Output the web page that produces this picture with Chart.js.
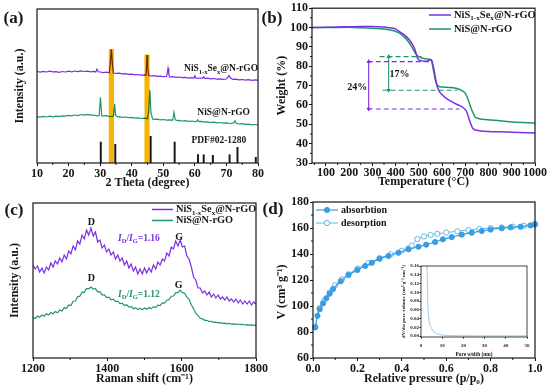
<!DOCTYPE html>
<html>
<head>
<meta charset="utf-8">
<title>NiS1-xSex@N-rGO characterization</title>
<script src="https://cdn.jsdelivr.net/npm/chart.js@4.4.1/dist/chart.umd.min.js"></script>
<style>
  html, body { margin: 0; padding: 0; background: #ffffff; }
  #fig { position: relative; width: 550px; height: 392px; overflow: hidden; background: #ffffff; }
  #fig canvas { position: absolute; left: 0; top: 0; }
</style>
</head>
<body>
<div id="fig">
  <canvas id="chartA" width="550" height="392"></canvas>
  <canvas id="chartB" width="550" height="392"></canvas>
  <canvas id="chartC" width="550" height="392"></canvas>
  <canvas id="chartD" width="550" height="392"></canvas>
  <canvas id="chartInset" width="550" height="392"></canvas>
</div>
<script>
// ---------------- (a) XRD ----------------
const XRD_TICKS = [10, 20, 30, 40, 50, 60, 70, 80];
const XRD_SE_2THETA = [10,11,12,13,14,15,16,17,18,19,20,21,22,23,24,25,26,27,28,28.6,29,29.4,30,31,32,32.9,33.2,33.55,33.9,34.2,35,36,37,38,39,40,41,42,43,44,44.5,44.7,44.85,45.05,45.4,46,47,48,49,50,51,51.25,51.5,51.75,52,53,54,55,56,57,58,59,59.7,60,60.3,61,62,62.5,62.8,63.2,64,65,66,67,68,69,70,70.4,70.8,71.2,72,73,74,75,76,77,78,79,80];
const XRD_SE_INT = [91.5,90.8,91.6,91.0,91.8,91.1,91.4,90.7,91.5,91.0,91.9,91.2,92.0,91.4,92.2,91.5,91.9,91.1,91.6,91.0,93.8,91.2,91.0,90.4,90.9,90.2,99,113.7,98,90.0,89.6,89.9,89.1,89.4,88.6,88.9,88.2,88.5,87.8,88.1,87.6,96,108,95,87.4,87.0,87.4,86.6,86.9,86.3,86.6,89.5,94.7,89,86.0,86.3,85.6,86.0,85.3,85.6,84.9,85.3,85.0,87.2,85.0,84.6,85.0,84.8,86.2,84.5,84.9,84.2,84.5,83.8,84.2,83.6,84.0,85.4,87.6,85.2,83.6,83.9,83.2,83.5,82.9,83.3,82.7,83.1,82.8];
const XRD_NIS_2THETA = [10,11,12,13,14,15,16,17,18,19,20,21,22,23,24,25,26,27,28,29,29.7,30.1,30.5,31,32,33,34,34.3,34.6,34.9,35.5,36,37,38,39,40,41,42,43,44,45,45.4,45.75,46.1,46.6,47,48,49,50,51,52,53,53.4,53.8,54.5,55,56,57,58,59,60,60.5,60.9,61.3,62,63,64,65,66,67,68,69,70,71,72,72.3,72.7,73.1,74,75,76,77,78,79,80];
const XRD_NIS_INT = [46.3,45.8,46.6,46.0,46.8,46.2,46.9,46.4,47.2,46.8,47.6,47.1,48.0,47.4,48.5,47.9,48.6,47.8,48.0,47.2,47.4,65.7,47.5,46.9,47.3,46.5,46.7,48,59,47.5,46.1,46.4,45.7,46.0,45.3,45.6,44.9,45.2,44.5,44.8,44.3,52,73,50,44.0,43.6,43.9,43.2,43.5,42.8,43.1,42.9,50.7,43.2,42.4,42.7,42.0,42.4,41.7,42.0,41.4,41.6,43.2,41.3,41.6,40.9,41.2,40.5,40.8,40.1,40.5,39.8,40.2,39.5,39.8,40.2,42.3,39.7,39.0,39.3,38.6,38.9,38.2,38.5,38.0];
const PDF_2THETA = [30.2, 34.8, 46.0, 53.6, 61.0, 62.8, 65.7, 71.0, 73.5, 79.3];
const PDF_INT = [21, 18.7, 26.7, 21, 8.3, 8.3, 7.7, 8.3, 15.7, 5.7];
const HIGHLIGHT_2THETA = [33.55, 44.85];
const HIGHLIGHT_TOP = [113.7, 108];

// ---------------- (b) TGA ----------------
const TGA_T_TICKS = [100, 200, 300, 400, 500, 600, 700, 800, 900, 1000];
const TGA_W_TICKS = [30, 40, 50, 60, 70, 80, 90, 100, 110];
const TGA_SE_T = [40,100,150,200,250,300,350,380,400,417,440,460,481,495,510,532,550,556,563,570,577,589,600,617,640,660,689,706,713,720,734,760,800,850,903,1000];
const TGA_SE_W = [100,100.1,100.3,100.4,100.5,100.5,100.3,99.8,99.2,97.9,96,93.6,89.3,84.1,82.9,82.6,83.3,82.8,79.5,75,70.3,66.9,65.3,63.5,61.8,60.5,58.8,56.5,54,51.4,47.6,46.7,46.3,46.1,45.9,45.5];
const TGA_NIS_T = [40,100,200,250,300,350,380,400,417,440,460,481,495,517,546,553,560,565,571,586,600,617,660,689,700,710,720,731,746,775,850,903,1000];
const TGA_NIS_W = [100,100,100.1,99.9,99.6,99.2,98.6,98,97.1,94.8,91.9,87.6,85.3,84.1,83.6,83.3,79.8,76.5,72.9,69.5,69.3,69.1,68.6,67.2,66,63.5,60,56.5,53.4,52.6,51.8,51.2,50.7];
const GUIDE_SE_TOP_T = [280, 553];
const GUIDE_SE_TOP_W = [82.4, 82.4];
const GUIDE_SE_BOT_T = [280, 674];
const GUIDE_SE_BOT_W = [57.9, 57.9];
const ARROW_SE_T = [284, 284];
const ARROW_SE_W = [82.4, 57.9];
const GUIDE_NIS_TOP_T = [331, 511];
const GUIDE_NIS_TOP_W = [85, 85];
const GUIDE_NIS_BOT_T = [344, 666];
const GUIDE_NIS_BOT_W = [67.6, 67.6];
const ARROW_NIS_T = [370, 370];
const ARROW_NIS_W = [85, 67.6];

// ---------------- (c) Raman ----------------
const RAMAN_TICKS = [1200, 1400, 1600, 1800];
const RAMAN_SHIFT = [1200,1206,1212,1218,1224,1230,1236,1242,1248,1254,
  1260,1266,1272,1278,1284,1290,1296,1302,1308,1314,
  1320,1326,1332,1338,1344,1350,1356,1362,1368,1374,
  1380,1386,1392,1398,1404,1410,1416,1422,1428,1434,
  1440,1446,1452,1458,1464,1470,1476,1482,1488,1494,
  1500,1506,1512,1518,1524,1530,1536,1542,1548,1554,
  1560,1566,1572,1578,1584,1590,1596,1602,1608,1614,
  1620,1626,1632,1638,1644,1650,1656,1662,1668,1674,
  1680,1686,1692,1698,1704,1710,1716,1722,1728,1734,
  1740,1746,1752,1758,1764,1770,1776,1782,1788,1794,1800];
const RAMAN_SE = [93,89,92,86,90,85,91,88,95,91,
  97,94,100,96,103,99,107,104,112,108,
  117,114,123,119,128,123,130,122,126,116,
  118,110,113,106,109,103,106,99,103,97,
  100,93,97,90,94,87,91,84,89,84,
  90,85,90,86,93,89,96,93,99,97,
  105,102,111,109,117,112,118,111,112,102,
  99,91,81,78,70,70,65,67,63,66,
  61,64,60,63,59,61,58,61,57,59,
  56,59,55,58,54,57,54,57,53,56,54];
const RAMAN_NIS = [40.5,39.5,42,40.8,43,41.8,44.2,43,45.5,44.3,
  46.5,45.2,48,47,50.2,49.6,53,52.5,56.8,57,
  61.2,61.8,65.8,65.7,69.5,69.2,71,69,69.4,66.2,
  66.3,63.2,63.2,60.3,60.8,58.2,58.8,56.3,56.8,54.4,
  54.8,52.5,53.2,50.9,51.6,49.3,50.2,48.4,49.8,48.3,
  50,48.8,50.5,49.4,51.3,50.4,52.8,52.3,55.1,54.9,
  57.8,58.3,61.8,62,65.3,65.4,67.8,65.4,64.8,60.8,
  58.6,53,49.4,44.6,42.3,39.7,39.1,37.7,37.6,36.5,
  36.6,35.7,35.9,35.1,35.4,34.6,34.9,34.2,34.6,33.8,
  34.2,33.6,34,33.3,33.7,33,33.4,32.8,33.2,32.6,32.9];

// ---------------- (d) N2 isotherm ----------------
const BET_P_TICKS = [0, 0.2, 0.4, 0.6, 0.8, 1.0];
const BET_V_TICKS = [60, 80, 100, 120, 140, 160, 180];
const BET_ADS_P = [0.01,0.02,0.03,0.045,0.06,0.075,0.09,0.125,0.16,0.2,0.235,0.265,0.3,0.34,0.385,0.43,0.475,0.51,0.55,0.585,0.625,0.67,0.715,0.76,0.8,0.85,0.89,0.935,0.98,1.0];
const BET_ADS_V = [83.5,92.5,97.5,102,106,109.5,113,119,123.8,127.7,130.8,133.3,136.4,138.5,141,143.6,145.6,147.2,149.2,151.3,153,154.9,156.4,157.7,158.8,159.8,160.5,161,162,162.6];
const BET_DES_P = [0.01,0.03,0.05,0.075,0.1,0.13,0.16,0.2,0.25,0.3,0.35,0.4,0.43,0.445,0.47,0.5,0.53,0.56,0.6,0.65,0.7,0.75,0.8,0.85,0.9,0.95,1.0];
const BET_DES_V = [84,98.5,104,110.5,116,120.5,124.5,128.8,133,136.8,139.8,142.6,144.5,146.5,151.5,153.5,154.6,155.5,156.5,157.5,158.5,159.3,160,160.5,161,161.7,163.5];
const PORE_W_TICKS = [0, 10, 20, 30, 40, 50];
const PORE_DV_TICKS = [0, 0.02, 0.04, 0.06, 0.08, 0.10, 0.12, 0.14, 0.16];
const PORE_W = [2,2.5,3,3.2,3.6,4,5,6,7.4,9,10.6,13,16,20,25,30,35,40,45,50];
const PORE_DV = [0.40,0.25,0.12,0.08,0.044,0.03,0.0176,0.01,0.006,0.0035,0.002,0.0012,0.0009,0.0007,0.0006,0.0005,0.0005,0.0005,0.0005,0.0005];

// ---------------- styling ----------------
const FONT = "'Liberation Serif', 'Times New Roman', Times, serif";
const INK = '#161616';
const PURPLE = '#7b2fe3';
const GREEN = '#21966c';
const YELLOW = '#f7b500';
const BLUE = '#3a9de2';
const BLUE2 = '#5fb8e8';
const INSET_LINE = '#8fd0ec';

// rich-text pieces (every piece is an object so option resolution keeps them intact)
const T = s => ({ t: s });
const SUB = s => ({ t: s, sub: true });
const IT = s => ({ t: s, it: true });
const NAME_SE = [T('NiS'), SUB('1-x'), T('Se'), SUB('x'), T('@N-rGO')];
const NAME_NIS = [T('NiS@N-rGO')];
const RATIO_SE = [IT('I'), SUB('D'), T('/'), IT('I'), SUB('G'), T('=1.16')];
const RATIO_NIS = [IT('I'), SUB('D'), T('/'), IT('I'), SUB('G'), T('=1.12')];

Chart.defaults.font.family = FONT;
Chart.defaults.font.weight = 'bold';
Chart.defaults.font.size = 12;
Chart.defaults.color = INK;

function pts(xs, ys) { return xs.map((x, i) => ({ x: x, y: ys[i] })); }

function drawRich(ctx, x, y, parts, size, color, align) {
  const segs = [];
  for (let i = 0; i < parts.length; i++) {
    const p = parts[i];
    const txt = (typeof p === 'string') ? p : String(p.t);
    const sub = (typeof p === 'string') ? false : !!p.sub;
    const it = (typeof p === 'string') ? false : !!p.it;
    const fs = sub ? size * 0.68 : size;
    const font = (it ? 'italic ' : '') + 'bold ' + fs + 'px ' + FONT;
    ctx.font = font;
    segs.push({ t: txt, font: font, w: ctx.measureText(txt).width, dy: sub ? size * 0.32 : 0 });
  }
  const W = segs.reduce((a, s) => a + s.w, 0);
  let cx = align === 'center' ? x - W / 2 : (align === 'right' ? x - W : x);
  ctx.fillStyle = color;
  ctx.textBaseline = 'middle';
  ctx.textAlign = 'left';
  segs.forEach(s => { ctx.font = s.font; ctx.fillText(s.t, cx, y + s.dy); cx += s.w; });
}

const deco = {
  id: 'deco',
  beforeDraw(chart, args, o) {
    if (o.fill) {
      const a = chart.chartArea, ctx = chart.ctx;
      ctx.save(); ctx.fillStyle = o.fill;
      ctx.fillRect(a.left, a.top, a.right - a.left, a.bottom - a.top);
      ctx.restore();
    }
  },
  beforeDatasetDraw(chart, args) {
    const ds = chart.data.datasets[args.index];
    if (ds.blend) { chart.ctx.save(); chart.ctx.globalCompositeOperation = ds.blend; }
  },
  afterDatasetDraw(chart, args) {
    const ds = chart.data.datasets[args.index];
    if (ds.blend) chart.ctx.restore();
  },
  afterDraw(chart, args, o) {
    const ctx = chart.ctx, a = chart.chartArea;
    ctx.save();
    (o.minor || []).forEach(m => {
      const sc = chart.scales[m.axis];
      ctx.strokeStyle = INK; ctx.lineWidth = 1;
      ctx.beginPath();
      for (let k = 0; k < 500; k++) {
        const v = m.from + k * m.step;
        if (v > sc.max + 1e-9) break;
        if (v < sc.min - 1e-9) continue;
        const p = sc.getPixelForValue(v);
        if (sc.isHorizontal()) { ctx.moveTo(p, a.bottom); ctx.lineTo(p, a.bottom + m.len); }
        else { ctx.moveTo(a.left, p); ctx.lineTo(a.left - m.len, p); }
      }
      ctx.stroke();
    });
    if (o.frame) {
      ctx.strokeStyle = INK; ctx.lineWidth = o.frame;
      ctx.strokeRect(a.left, a.top, a.right - a.left, a.bottom - a.top);
    }
    (o.legend || []).forEach(l => {
      ctx.strokeStyle = l.color; ctx.lineWidth = l.lw || 1.5;
      ctx.beginPath(); ctx.moveTo(l.x1, l.y); ctx.lineTo(l.x2, l.y); ctx.stroke();
      if (l.marker) {
        const cx = (l.x1 + l.x2) / 2;
        ctx.beginPath(); ctx.arc(cx, l.y, 2.6, 0, Math.PI * 2);
        ctx.fillStyle = l.marker === 'open' ? '#ffffff' : l.color;
        ctx.fill(); ctx.lineWidth = 1; ctx.stroke();
      }
      drawRich(ctx, l.tx, l.y, l.parts, l.size, INK, 'left');
    });
    (o.texts || []).forEach(t => {
      let x = t.x, y = t.y;
      if (!t.px) { x = chart.scales.x.getPixelForValue(t.x); y = chart.scales.y.getPixelForValue(t.y); }
      drawRich(ctx, x, y, t.parts, t.size, t.color || INK, t.align || 'center');
    });
    ctx.restore();
  }
};
Chart.register(deco);

function xScale(o) {
  return {
    type: 'linear', position: 'bottom', min: o.min, max: o.max, offset: false,
    afterBuildTicks: s => { s.ticks = o.ticks.map(v => ({ value: v })); },
    afterFit: s => { s.height = o.h; },
    ticks: { display: true, padding: o.tp, autoSkip: false, maxRotation: 0, minRotation: 0,
      font: { size: o.fs || 12, weight: 'bold' }, color: INK, callback: o.fmt || (v => String(v)) },
    grid: { display: true, drawOnChartArea: false, drawTicks: true, tickLength: o.tl, color: INK, offset: false },
    border: { display: false },
    title: { display: !!o.title, text: o.title, color: INK, font: { size: o.tfs || 12, weight: 'bold' },
      padding: { top: 0, bottom: o.tpad } }
  };
}
function yScale(o) {
  const hasTicks = !!o.ticks;
  return {
    type: 'linear', position: 'left', min: o.min, max: o.max,
    afterBuildTicks: s => { if (hasTicks) s.ticks = o.ticks.map(v => ({ value: v })); },
    afterFit: s => { s.width = o.w; },
    ticks: { display: hasTicks, padding: o.tp || 1, autoSkip: false,
      font: { size: o.fs || 12, weight: 'bold' }, color: INK, callback: o.fmt || (v => String(v)) },
    grid: { display: hasTicks, drawOnChartArea: false, drawTicks: true, tickLength: o.tl || 4, color: INK },
    border: { display: false },
    title: { display: true, text: o.title, color: INK, font: { size: o.tfs || 12, weight: 'bold' },
      padding: { top: o.tpad, bottom: 0 } }
  };
}
function opts(padding, x, y, decoOpts) {
  return {
    responsive: false, maintainAspectRatio: false, animation: false, devicePixelRatio: 1, events: [],
    layout: { padding: padding },
    scales: { x: x, y: y },
    plugins: { legend: { display: false }, tooltip: { enabled: false }, deco: decoOpts }
  };
}
function line(data, color, width, extra) {
  return Object.assign({ data: data, showLine: true, borderColor: color, backgroundColor: color,
    borderWidth: width, pointRadius: 0, tension: 0, order: 2 }, extra || {});
}

// ----- (a) -----
new Chart(document.getElementById('chartA'), {
  type: 'scatter',
  data: { datasets: [
    { type: 'bar', label: 'reflections', data: HIGHLIGHT_2THETA.map((x, i) => ({ x: x, y: [0, HIGHLIGHT_TOP[i]] })),
      backgroundColor: YELLOW, barThickness: 4.5, grouped: false, order: 0, blend: 'multiply' },
    { type: 'bar', label: 'PDF#02-1280', data: pts(PDF_2THETA, PDF_INT), backgroundColor: INK,
      barThickness: 1.3, grouped: false, order: 1 },
    line(pts(XRD_SE_2THETA, XRD_SE_INT), PURPLE, 1.2, { label: 'NiS1-xSex@N-rGO' }),
    line(pts(XRD_NIS_2THETA, XRD_NIS_INT), GREEN, 1.2, { label: 'NiS@N-rGO' })
  ]},
  options: opts({ left: 0, right: 292, top: 9, bottom: 196 },
    xScale({ min: 10, max: 80, ticks: XRD_TICKS, h: 33, tl: 3, tp: 1, title: '2 Theta (degree)', tpad: 5.8 }),
    yScale({ min: 0, max: 154, w: 37, title: 'Intensity (a.u.)', tpad: 12.8 }),
    { frame: 1.2,
      minor: [{ axis: 'x', from: 15, step: 10, len: 2 }],
      texts: [
        { px: true, x: 13.5, y: 19, parts: [T('(a)')], size: 17 },
        { x: 68.3, y: 94, parts: NAME_SE, size: 9.5 },
        { x: 69.1, y: 50, parts: NAME_NIS, size: 9.5 },
        { x: 67.6, y: 22, parts: [T('PDF#02-1280')], size: 9.5 }
      ] })
});

// ----- (b) -----
new Chart(document.getElementById('chartB'), {
  type: 'scatter',
  data: { datasets: [
    line(pts(TGA_SE_T, TGA_SE_W), PURPLE, 1.5, { label: 'NiS1-xSex@N-rGO', cubicInterpolationMode: 'monotone' }),
    line(pts(TGA_NIS_T, TGA_NIS_W), GREEN, 1.5, { label: 'NiS@N-rGO', cubicInterpolationMode: 'monotone' }),
    line(pts(GUIDE_SE_TOP_T, GUIDE_SE_TOP_W), PURPLE, 1.2, { borderDash: [5, 3], order: 3 }),
    line(pts(GUIDE_SE_BOT_T, GUIDE_SE_BOT_W), PURPLE, 1.2, { borderDash: [5, 3], order: 3 }),
    line(pts(ARROW_SE_T, ARROW_SE_W), PURPLE, 1.1, { order: 3, pointStyle: 'triangle', pointRadius: 2.6,
      pointRotation: [0, 180], pointBorderWidth: 0, pointBackgroundColor: PURPLE }),
    line(pts(GUIDE_NIS_TOP_T, GUIDE_NIS_TOP_W), GREEN, 1.2, { borderDash: [5, 3], order: 3 }),
    line(pts(GUIDE_NIS_BOT_T, GUIDE_NIS_BOT_W), GREEN, 1.2, { borderDash: [5, 3], order: 3 }),
    line(pts(ARROW_NIS_T, ARROW_NIS_W), GREEN, 1.1, { order: 3, pointStyle: 'triangle', pointRadius: 2.6,
      pointRotation: [0, 180], pointBorderWidth: 0, pointBackgroundColor: GREEN })
  ]},
  options: opts({ left: 267, right: 15, top: 8, bottom: 196 },
    xScale({ min: 40, max: 1000, ticks: TGA_T_TICKS, h: 33, tl: 3, tp: 0, title: 'Temperature (°C)', tpad: 7 }),
    yScale({ min: 30, max: 110, ticks: TGA_W_TICKS, w: 45, tl: 3, tp: 1, title: 'Weight (%)', tpad: 7.8 }),
    { frame: 1.2,
      minor: [{ axis: 'x', from: 50, step: 100, len: 2 }, { axis: 'y', from: 35, step: 10, len: 2 }],
      legend: [
        { x1: 429, x2: 451, y: 15, color: PURPLE, lw: 1.5, tx: 454, parts: NAME_SE, size: 10.5 },
        { x1: 429, x2: 451, y: 29, color: GREEN, lw: 1.5, tx: 454, parts: NAME_NIS, size: 10.5 }
      ],
      texts: [
        { px: true, x: 272, y: 19, parts: [T('(b)')], size: 17 },
        { x: 235, y: 69.3, parts: [T('24%')], size: 10 },
        { x: 417, y: 76, parts: [T('17%')], size: 10 }
      ] })
});

// ----- (c) -----
new Chart(document.getElementById('chartC'), {
  type: 'scatter',
  data: { datasets: [
    line(pts(RAMAN_SHIFT, RAMAN_SE), PURPLE, 1.2, { label: 'NiS1-xSex@N-rGO' }),
    line(pts(RAMAN_SHIFT, RAMAN_NIS), GREEN, 1.2, { label: 'NiS@N-rGO' })
  ]},
  options: opts({ left: 0, right: 294, top: 203, bottom: 0 },
    xScale({ min: 1200, max: 1800, ticks: RAMAN_TICKS, h: 34, tl: 3, tp: 1, title: 'Raman shift (cm⁻¹)', tpad: 5.8 }),
    yScale({ min: 0, max: 155, w: 33, title: 'Intensity (a.u.)', tpad: 7.8 }),
    { frame: 1.2,
      minor: [{ axis: 'x', from: 1300, step: 200, len: 2 }],
      legend: [
        { x1: 152, x2: 173, y: 209.5, color: PURPLE, lw: 1.5, tx: 176, parts: NAME_SE, size: 10.3 },
        { x1: 152, x2: 173, y: 220.5, color: GREEN, lw: 1.5, tx: 176, parts: NAME_NIS, size: 10.3 }
      ],
      texts: [
        { px: true, x: 14, y: 211, parts: [T('(c)')], size: 17 },
        { x: 1357, y: 136, parts: [T('D')], size: 10 },
        { x: 1357, y: 79.7, parts: [T('D')], size: 10 },
        { x: 1593, y: 120.3, parts: [T('G')], size: 10 },
        { x: 1592, y: 72.7, parts: [T('G')], size: 10 },
        { x: 1485, y: 119.3, color: PURPLE, size: 9.5, parts: RATIO_SE },
        { x: 1485, y: 63.7, color: GREEN, size: 9.5, parts: RATIO_NIS }
      ] })
});

// ----- (d) -----
new Chart(document.getElementById('chartD'), {
  type: 'scatter',
  data: { datasets: [
    line(pts(BET_ADS_P, BET_ADS_V), BLUE, 1.2, { label: 'absorbtion', cubicInterpolationMode: 'monotone',
      pointRadius: 2.6, pointBackgroundColor: BLUE, pointBorderColor: BLUE, pointBorderWidth: 1, clip: 5 }),
    line(pts(BET_DES_P, BET_DES_V), BLUE2, 1.0, { label: 'desorption', cubicInterpolationMode: 'monotone',
      pointRadius: 2.6, pointBackgroundColor: '#ffffff', pointBorderColor: BLUE2, pointBorderWidth: 1, clip: 5 })
  ]},
  options: opts({ left: 268, right: 15, top: 202, bottom: 0 },
    xScale({ min: 0, max: 1, ticks: BET_P_TICKS, h: 34, tl: 3, tp: 1, title: 'Relative pressure (p/p₀)', tpad: 5.8,
      fmt: v => v.toFixed(1) }),
    yScale({ min: 60, max: 180, ticks: BET_V_TICKS, w: 45, tl: 3, tp: 1, title: 'V (cm³ g⁻¹)        ', tpad: 6.8 }),
    { frame: 1.2,
      minor: [{ axis: 'x', from: 0.1, step: 0.2, len: 2 }, { axis: 'y', from: 70, step: 20, len: 2 }],
      legend: [
        { x1: 316, x2: 338, y: 210, color: BLUE, lw: 1.2, marker: 'filled', tx: 341, parts: [T('absorbtion')], size: 10 },
        { x1: 316, x2: 338, y: 223, color: BLUE2, lw: 1.0, marker: 'open', tx: 341, parts: [T('desorption')], size: 10 }
      ],
      texts: [
        { px: true, x: 273, y: 210, parts: [T('(d)')], size: 17 }
      ] })
});

// ----- (d) inset -----
new Chart(document.getElementById('chartInset'), {
  type: 'scatter',
  data: { datasets: [
    line(pts(PORE_W, PORE_DV), INSET_LINE, 1.0, { label: 'pore size distribution', cubicInterpolationMode: 'monotone' })
  ]},
  options: opts({ left: 399, right: 23, top: 266, bottom: 34 },
    xScale({ min: 0, max: 50, ticks: PORE_W_TICKS, h: 21, tl: 1.5, tp: 4, fs: 5, title: 'Pore width (nm)', tfs: 5.3, tpad: 0.5 }),
    yScale({ min: -0.002, max: 0.16, ticks: PORE_DV_TICKS, w: 22, tl: 1.5, tp: 0.5, fs: 5,
      title: 'dV/dw pore volume (cm³ g⁻¹ nm⁻¹)', tfs: 5, tpad: 1.3, fmt: v => v.toFixed(2) }),
    { frame: 0.8, fill: '#ffffff' })
});
</script>
</body>
</html>
